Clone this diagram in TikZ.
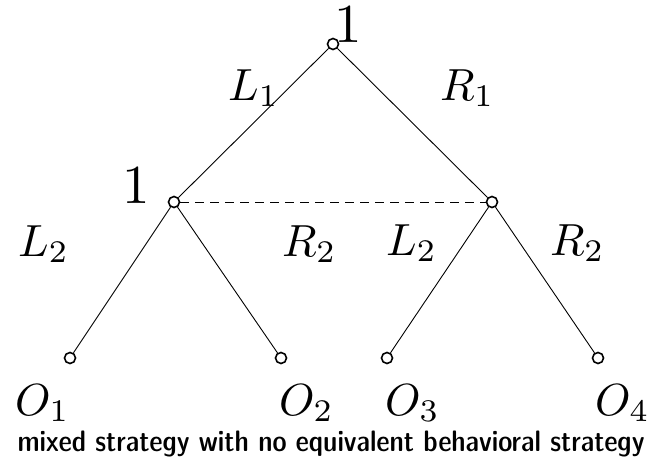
\documentclass[tikz,border=0pt]{standalone}
\begin{document}
\begin{tikzpicture}[x=1pt,y=-1pt,
  vtx/.style={circle,draw,line width=1.6pt,inner sep=0pt,minimum size=11pt},
  edge/.style={line width=0.9pt},
  lab/.style={inner sep=0pt,anchor=base west},
  captext/.style={inner sep=0pt,anchor=base}]
\newcommand{\mlab}[1]{\scalebox{4.5}{$#1$}}
\newcommand{\plab}[1]{\scalebox{5.5}{$#1$}}
\useasboundingbox (0,0) rectangle (663,460);
\node[vtx] (r) at (333,44) {};
\node[vtx] (a) at (174,202) {};
\node[vtx] (b) at (492,202) {};
\node[vtx] (o1) at (70,358) {};
\node[vtx] (o2) at (281,358) {};
\node[vtx] (o3) at (387,358) {};
\node[vtx] (o4) at (598,358) {};
\draw[edge] (r) -- (a);
\draw[edge] (r) -- (b);
\draw[edge] (a) -- (o1);
\draw[edge] (a) -- (o2);
\draw[edge] (b) -- (o3);
\draw[edge] (b) -- (o4);
\draw[edge,dashed,dash pattern=on 9pt off 6pt] (a) -- (b);
\node[lab] (n1) at (334,43) {\plab{1}};
\node[lab] (n2) at (122,203) {\plab{1}};
\node[lab] (l1) at (228,100) {\mlab{L_1}};
\node[lab] (r1) at (440,100) {\mlab{R_1}};
\node[lab] (l2a) at (18,256) {\mlab{L_2}};
\node[lab] (r2a) at (282,256) {\mlab{R_2}};
\node[lab] (l2b) at (386,255) {\mlab{L_2}};
\node[lab] (r2b) at (550,255) {\mlab{R_2}};
\node[lab] (O1) at (15,415) {\mlab{O_1}};
\node[lab] (O2) at (279,415) {\mlab{O_2}};
\node[lab] (O3) at (385,415) {\mlab{O_3}};
\node[lab] (O4) at (595,415) {\mlab{O_4}};
\node[captext] (c) at (331,451) {\resizebox{627pt}{!}{\sffamily\fontseries{sbc}\selectfont mixed strategy with no equivalent behavioral strategy}};
\end{tikzpicture}
\end{document}
